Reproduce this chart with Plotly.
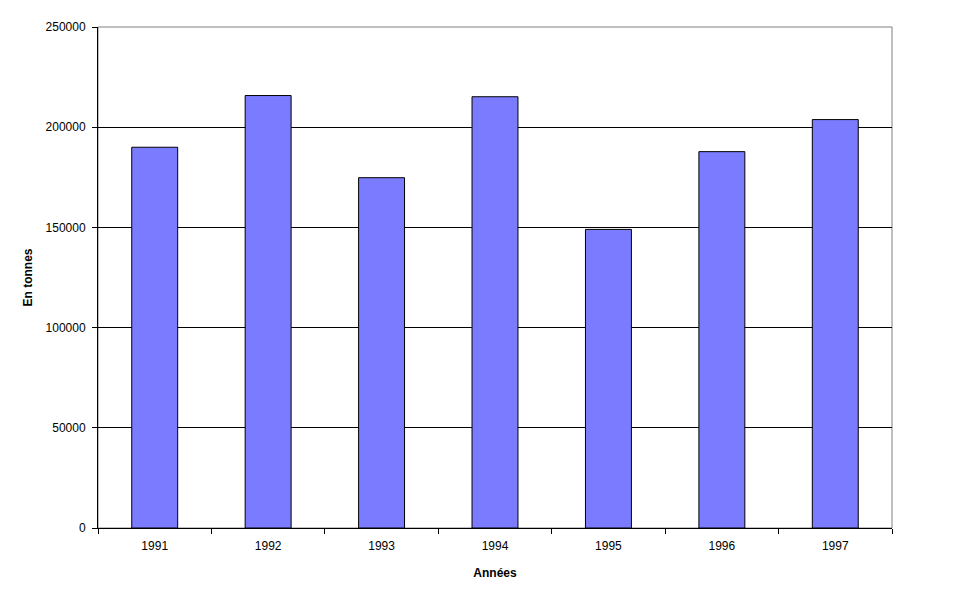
import plotly.graph_objects as go

years = ["1991", "1992", "1993", "1994", "1995", "1996", "1997"]
tonnes = [190000, 215800, 174800, 215200, 149000, 187800, 203800]
y_ticks = [0, 50000, 100000, 150000, 200000, 250000]

fig = go.Figure()
fig.add_trace(go.Bar(
    x=years, y=tonnes,
    marker=dict(color="#7b7bff", line=dict(color="black", width=1)),
))

font = dict(family="Liberation Sans, Arial, sans-serif", size=12, color="black")

fig.update_layout(
    width=961, height=595,
    margin=dict(l=90, r=77, t=19, b=75),
    paper_bgcolor="white", plot_bgcolor="white",
    bargap=0.595,
    showlegend=False,
    font=font,
    xaxis=dict(
        type="category",
        showline=True, linecolor="black", linewidth=1,
        ticks="outside", tickson="boundaries", ticklen=5, tickcolor="black",
        ticklabelstandoff=7,
        showgrid=False,
        title=dict(text="<b>Années</b>", font=font, standoff=16),
    ),
    yaxis=dict(
        range=[0, 250000],
        tickvals=y_ticks, tickformat="d",
        showline=True, linecolor="black", linewidth=1,
        ticks="outside", ticklen=5, tickcolor="black",
        ticklabelstandoff=4,
        showgrid=True, gridcolor="black", gridwidth=1,
        zeroline=False,
        title=dict(text="<b>En tonnes</b>", font=font, standoff=10),
    ),
    shapes=[dict(type="rect", xref="paper", yref="paper", x0=0, x1=1, y0=0, y1=1,
                 line=dict(color="#808080", width=1), layer="below")],
)

fig.write_html("out.html")
